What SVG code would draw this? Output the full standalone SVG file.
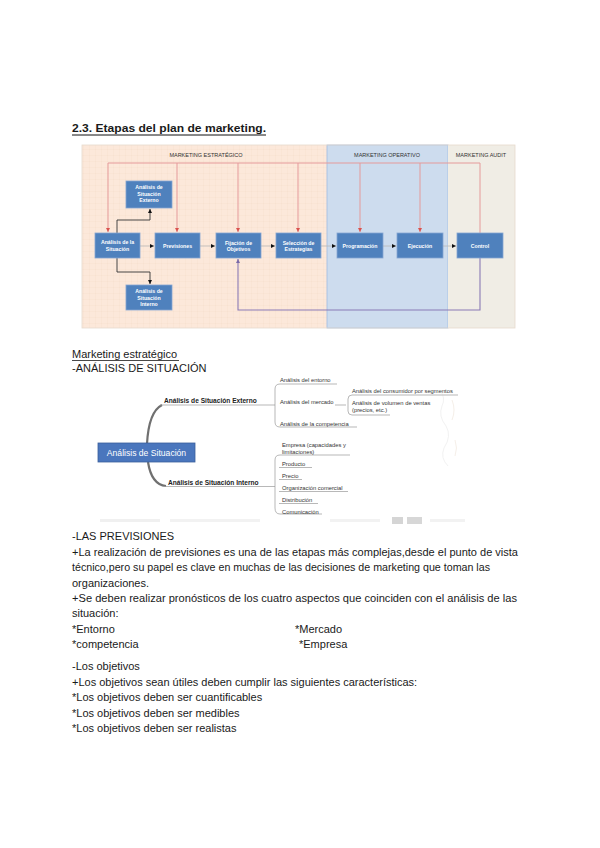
<svg xmlns="http://www.w3.org/2000/svg" width="600" height="848" viewBox="0 0 600 848">
<style>
.body{font-family:"Liberation Sans",Arial,sans-serif;font-size:11px;fill:#1a1a1a}
.bx{fill:#4f81bd;stroke:#86a6d2;stroke-width:0.8}
.bt{font-family:"Liberation Sans",Arial,sans-serif;font-size:5.2px;font-weight:bold;fill:#fff;text-anchor:middle}
.hd{font-family:"Liberation Sans",Arial,sans-serif;font-size:5.5px;fill:#333;text-anchor:middle}
.mm{font-family:"Liberation Sans",Arial,sans-serif;font-size:5.8px;fill:#333}
.mb{font-family:"Liberation Sans",Arial,sans-serif;font-size:6.6px;font-weight:bold;fill:#222}
.ul{stroke:#9a9a9a;stroke-width:0.7;fill:none}
.red{stroke:#e59a9a;stroke-width:1;fill:none}
.grey{stroke:#b8b8b8;stroke-width:0.8;fill:none}
.dark{stroke:#333;stroke-width:0.9;fill:none}
</style>
<defs>
<marker id="aB" markerWidth="5" markerHeight="5" refX="4" refY="2.5" orient="auto" markerUnits="userSpaceOnUse"><path d="M0,0.5 L4,2.5 L0,4.5 Z" fill="#111"/></marker>
<marker id="aR" markerWidth="5" markerHeight="5" refX="4" refY="2.5" orient="auto" markerUnits="userSpaceOnUse"><path d="M0,0.5 L4,2.5 L0,4.5 Z" fill="#d9534f"/></marker>
<marker id="aP" markerWidth="5" markerHeight="5" refX="4" refY="2.5" orient="auto" markerUnits="userSpaceOnUse"><path d="M0,0.5 L4,2.5 L0,4.5 Z" fill="#7a6aa8"/></marker>
<pattern id="grid" width="6" height="6" patternUnits="userSpaceOnUse"><path d="M6,0 V6 M0,6 H6" stroke="#f3d6c4" stroke-width="0.4" fill="none"/></pattern>
</defs>

<!-- Title -->
<text class="body" x="72" y="132" font-weight="bold" font-size="13" textLength="194" lengthAdjust="spacingAndGlyphs">2.3. Etapas del plan de marketing.</text>
<line x1="72" y1="135" x2="266" y2="135" stroke="#111" stroke-width="1"/>

<!-- Top diagram background -->
<g id="bg-sections">
<rect x="82" y="145" width="245" height="183" fill="#fce8da"/>
<rect x="82" y="145" width="245" height="183" fill="url(#grid)"/>
<rect x="327" y="145" width="121" height="183" fill="#cddcee" stroke="#9fbbe0" stroke-width="0.8"/>
<rect x="448" y="145" width="67" height="183" fill="#f0ede5"/>
<rect x="82" y="145" width="433" height="183" fill="none" stroke="#e6d9cc" stroke-width="0.8"/>
<text class="hd" x="206" y="157">MARKETING ESTRATÉGICO</text>
<text class="hd" x="387" y="157">MARKETING OPERATIVO</text>
<text class="hd" x="481" y="157">MARKETING AUDIT</text>
</g>

<g id="connectors">
<path class="red" d="M108,163 H480 V233"/>
<path class="red" d="M108,163 V232" marker-end="url(#aR)"/>
<path class="red" d="M177,163 V232" marker-end="url(#aR)"/>
<path class="red" d="M238,163 V232" marker-end="url(#aR)"/>
<path class="red" d="M298,163 V232" marker-end="url(#aR)"/>
<path class="red" d="M360,163 V232" marker-end="url(#aR)"/>
<path class="red" d="M420,163 V232" marker-end="url(#aR)"/>
<path d="M480,258 V310 H238 V259" stroke="#8a7ab5" stroke-width="1.1" fill="none" marker-end="url(#aP)"/>
<path class="grey" d="M140,246 H154" marker-end="url(#aB)"/>
<path class="grey" d="M200,246 H215" marker-end="url(#aB)"/>
<path class="grey" d="M261,246 H275" marker-end="url(#aB)"/>
<path class="grey" d="M321,246 H336" marker-end="url(#aB)"/>
<path class="grey" d="M383,246 H396" marker-end="url(#aB)"/>
<path class="grey" d="M443,246 H456" marker-end="url(#aB)"/>
<path class="dark" d="M117,233 V220 H150 V209" marker-end="url(#aB)"/>
<path class="dark" d="M117,258 V272 H150 V284" marker-end="url(#aB)"/>
</g>

<g id="n-situacion"><rect class="bx" x="95" y="233" width="45" height="25"/><text class="bt" x="117.5" y="244">Análisis de la</text><text class="bt" x="117.5" y="251">Situación</text></g>
<g id="n-externo"><rect class="bx" x="126" y="181" width="46" height="27"/><text class="bt" x="149" y="189" font-weight="normal">Análisis de</text><text class="bt" x="149" y="195.5" font-weight="normal">Situación</text><text class="bt" x="149" y="202" font-weight="normal">Externo</text></g>
<g id="n-interno"><rect class="bx" x="126" y="285" width="46" height="25"/><text class="bt" x="149" y="293" font-weight="normal">Análisis de</text><text class="bt" x="149" y="299.5" font-weight="normal">Situación</text><text class="bt" x="149" y="306" font-weight="normal">Interno</text></g>
<g id="n-previsiones"><rect class="bx" x="155" y="233" width="45" height="25"/><text class="bt" x="177.5" y="248">Previsiones</text></g>
<g id="n-fijacion"><rect class="bx" x="216" y="233" width="45" height="25"/><text class="bt" x="238.5" y="244.5">Fijación de</text><text class="bt" x="238.5" y="251">Objetivos</text></g>
<g id="n-seleccion"><rect class="bx" x="276" y="233" width="45" height="25"/><text class="bt" x="298.5" y="244.5">Selección de</text><text class="bt" x="298.5" y="251">Estrategias</text></g>
<g id="n-programacion"><rect class="bx" x="337" y="233" width="46" height="25"/><text class="bt" x="360" y="248">Programación</text></g>
<g id="n-ejecucion"><rect class="bx" x="397" y="233" width="46" height="25"/><text class="bt" x="420" y="248">Ejecución</text></g>
<g id="n-control"><rect class="bx" x="457" y="233" width="46" height="25"/><text class="bt" x="480" y="248">Control</text></g>

<!-- Section text -->
<text class="body" x="72" y="358">Marketing estratégico</text>
<line x1="72" y1="360.5" x2="179" y2="360.5" stroke="#1a1a1a" stroke-width="0.8"/>
<text class="body" x="72" y="372">-ANÁLISIS DE SITUACIÓN</text>

<!-- Mind map -->
<g id="mindmap-links">
<path d="M147,444 C148,425 152,410 162,405" stroke="#707070" stroke-width="2.2" fill="none"/>
<path class="ul" d="M160,405 H275"/>
<path d="M148,462 C150,475 155,485 166,486" stroke="#707070" stroke-width="2.2" fill="none"/>
<path class="ul" d="M164,486.5 H275"/>
<path class="ul" d="M337,384 H280 Q275,384 275,389 V422 Q275,427 280,427 H357"/>
<path class="ul" d="M335,405 H346"/>
<path class="ul" d="M458,395 H352 Q348,395 348,399 V411 Q348,415 352,415 H390"/>
<path class="ul" d="M350,455 H280 Q275,455 275,460 V508 Q275,514 280,514 H322"/>
<path class="ul" d="M279,467.5 H312"/>
<path class="ul" d="M279,479.5 H302"/>
<path class="ul" d="M279,491.5 H348"/>
<path class="ul" d="M279,503.5 H318"/>
</g>
<g id="mm-root"><rect x="98" y="443" width="97" height="19" fill="#4a76bd" stroke="#3a5f9c" stroke-width="0.8"/><text x="146.5" y="455.5" text-anchor="middle" font-family="Liberation Sans, Arial, sans-serif" font-size="8.6" fill="#fff">Análisis de Situación</text></g>
<g id="mm-externo"><text class="mb" x="164" y="403">Análisis de Situación Externo</text></g>
<g id="mm-interno"><text class="mb" x="168" y="484.5">Análisis de Situación Interno</text></g>
<g id="mm-ext-items">
<text class="mm" x="280" y="382">Análisis del entorno</text>
<text class="mm" x="280" y="404">Análisis del mercado</text>
<text class="mm" x="280" y="425.5">Análisis de la competencia</text>
<text class="mm" x="352" y="393">Análisis del consumidor por segmentos</text>
<text class="mm" x="352" y="405">Análisis de volumen de ventas</text>
<text class="mm" x="352" y="412">(precios, etc.)</text>
</g>
<g id="mm-int-items">
<text class="mm" x="282" y="447">Empresa (capacidades y</text>
<text class="mm" x="282" y="453.5">limitaciones)</text>
<text class="mm" x="282" y="466">Producto</text>
<text class="mm" x="282" y="478">Precio</text>
<text class="mm" x="282" y="490">Organización comercial</text>
<text class="mm" x="282" y="502">Distribución</text>
<text class="mm" x="282" y="514">Comunicación</text>
</g>
<g id="mm-smudges" opacity="0.35">
<rect x="100" y="519" width="60" height="3" fill="#d5d5d5"/>
<rect x="170" y="519" width="90" height="3" fill="#dcdcdc"/>
<rect x="330" y="519" width="50" height="3" fill="#dcdcdc"/>
<rect x="392" y="517" width="11" height="7" fill="#8a8a8a"/>
<rect x="407" y="517" width="15" height="7" fill="#909090"/>
<rect x="430" y="519" width="35" height="3" fill="#dcdcdc"/>
<path d="M440,390 q6,8 2,16 q-4,10 4,20 q6,10 -2,22 q-4,10 4,18" stroke="#d0d0d0" stroke-width="0.8" fill="none"/>
<path d="M452,400 q4,10 0,20 M455,440 q3,8 0,16" stroke="#dcc6b0" stroke-width="0.8" fill="none"/>
</g>

<!-- Body text -->
<g id="body-text">
<text class="body" x="72" y="540">-LAS PREVISIONES</text>
<text class="body" x="72" y="555.5" textLength="446" lengthAdjust="spacingAndGlyphs">+La realización de previsiones es una de las etapas más complejas,desde el punto de vista</text>
<text class="body" x="72" y="571" textLength="418" lengthAdjust="spacingAndGlyphs">técnico,pero su papel es clave en muchas de las decisiones de marketing que toman las</text>
<text class="body" x="72" y="586.5">organizaciones.</text>
<text class="body" x="72" y="602" textLength="445" lengthAdjust="spacingAndGlyphs">+Se deben realizar pronósticos de los cuatro aspectos que coinciden con el análisis de las</text>
<text class="body" x="72" y="617">situación:</text>
<text class="body" x="72" y="632.5">*Entorno</text>
<text class="body" x="295" y="632.5">*Mercado</text>
<text class="body" x="72" y="648">*competencia</text>
<text class="body" x="299" y="648">*Empresa</text>
<text class="body" x="72" y="670">-Los objetivos</text>
<text class="body" x="72" y="685.5">+Los objetivos sean útiles deben cumplir las siguientes características:</text>
<text class="body" x="72" y="701">*Los objetivos deben ser cuantificables</text>
<text class="body" x="72" y="716.5">*Los objetivos deben ser medibles</text>
<text class="body" x="72" y="732">*Los objetivos deben ser realistas</text>
</g>
</svg>
